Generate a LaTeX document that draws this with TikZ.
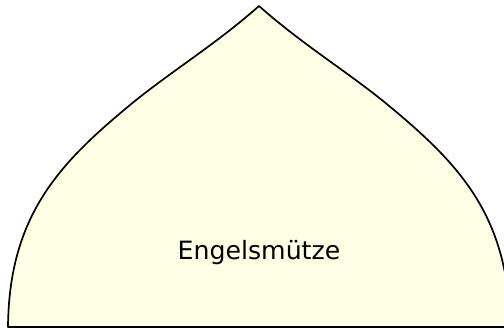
\documentclass[tikz,border=0pt]{standalone}
\usepackage{fontspec}
\setmainfont{DejaVu Sans}
\definecolor{domefill}{RGB}{255,255,230}
\tikzset{dome/.style={draw=black, line width=1.7pt, fill=domefill, line join=round},
  lbl/.style={font=\fontsize{25.2}{30}\selectfont, text=black, inner sep=0pt, anchor=base}}
\begin{document}
\begin{tikzpicture}[x=1pt,y=-1pt]
\useasboundingbox (0,0) rectangle (504,334);
\clip (0,0) rectangle (504,334);
\draw[dome] (259,6) .. controls (215,45) and (170,72) .. (130,105)
  .. controls (60,163) and (9,215) .. (8,327)
  -- (510,327)
  .. controls (509,215) and (458,163) .. (388,105)
  .. controls (348,72) and (303,45) .. (259,6) -- cycle;
\node[lbl] (t) at (259,260) {Engelsmütze};
\end{tikzpicture}
\end{document}
